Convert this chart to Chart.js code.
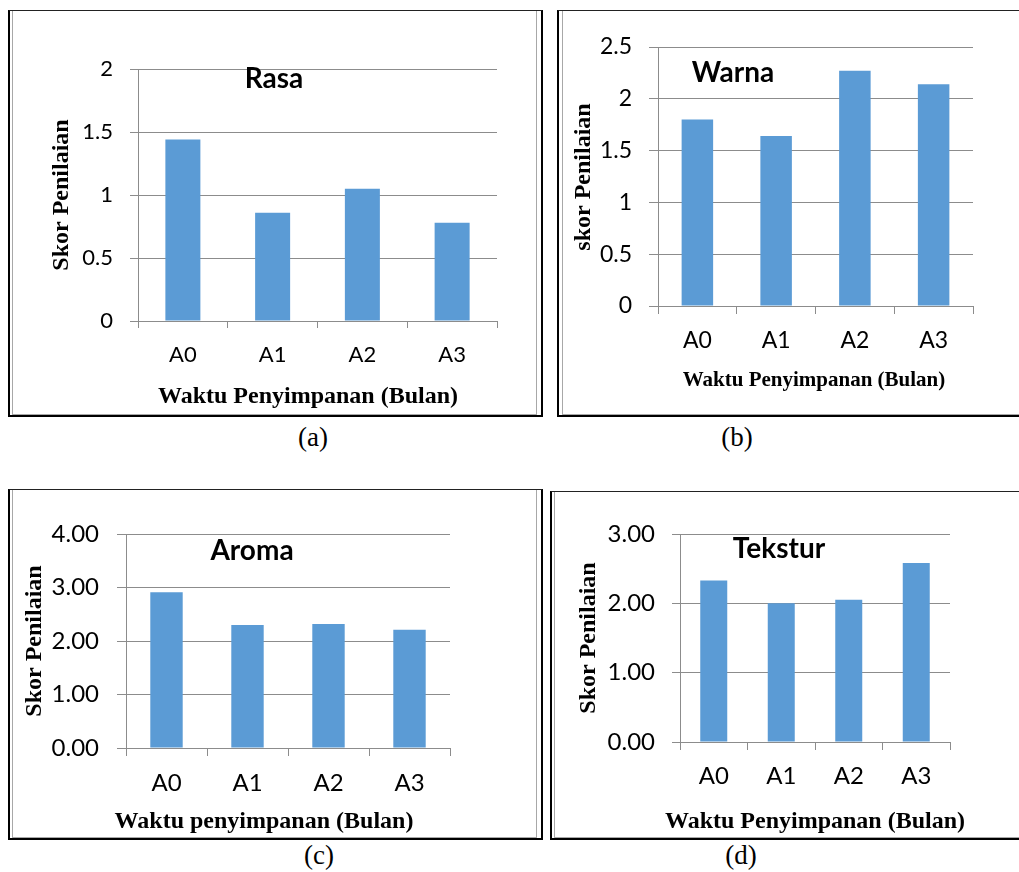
<!DOCTYPE html>
<html><head><meta charset="utf-8">
<script src="https://cdn.jsdelivr.net/npm/chart.js@4.4.1/dist/chart.umd.min.js"></script>
<style>
html,body{margin:0;padding:0;background:#fff;}
body{width:1019px;height:872px;position:relative;overflow:hidden;}
canvas{position:absolute;left:0;top:0;}
.frame{position:absolute;box-sizing:border-box;border:2px solid #000;border-top:1px solid #222;}
.inner{position:absolute;box-sizing:border-box;border:1px solid #a8a8a8;border-top:none;}
.cap{position:absolute;width:100px;text-align:center;font-family:"Liberation Serif",serif;font-size:27px;line-height:30px;color:#000;}
</style>
</head><body>
<div class="frame" style="left:8px;top:10px;width:535px;height:407px"></div>
<div class="inner" style="left:12px;top:11px;width:525px;height:404px"></div>
<div class="frame" style="left:557px;top:10px;width:470px;height:407px"></div>
<div class="inner" style="left:562px;top:11px;width:470px;height:404px"></div>
<div class="frame" style="left:8px;top:489px;width:535px;height:351px"></div>
<div class="inner" style="left:12px;top:490px;width:525px;height:348px"></div>
<div class="frame" style="left:550px;top:491px;width:480px;height:349px"></div>
<div class="inner" style="left:554px;top:492px;width:480px;height:346px"></div>
<div class="cap" style="left:263px;top:422px">(a)</div>
<div class="cap" style="left:687px;top:422px">(b)</div>
<div class="cap" style="left:269px;top:840px">(c)</div>
<div class="cap" style="left:691px;top:840px">(d)</div>
<canvas id="cA" width="1019" height="872"></canvas>
<canvas id="cB" width="1019" height="872"></canvas>
<canvas id="cC" width="1019" height="872"></canvas>
<canvas id="cD" width="1019" height="872"></canvas>
<script>
const categories = ['A0', 'A1', 'A2', 'A3'];
const rasa = [1.44, 0.86, 1.05, 0.78];
const warna = [1.80, 1.64, 2.27, 2.14];
const aroma = [2.91, 2.30, 2.32, 2.21];
const tekstur = [2.33, 2.00, 2.05, 2.58];
const ticksRasa = ['0', '0.5', '1', '1.5', '2'];
const ticksWarna = ['0', '0.5', '1', '1.5', '2', '2.5'];
const ticksAroma = ['0.00', '1.00', '2.00', '3.00', '4.00'];
const ticksTekstur = ['0.00', '1.00', '2.00', '3.00'];

const W = 1019, H = 872;
const GRID = '#8c8c8c';
const BAR = '#5b9bd5';

const textPlugin = {
  id: 'panelText',
  afterDraw(chart, args, opts) {
    const ctx = chart.ctx;
    (opts.items || []).forEach(it => {
      ctx.save();
      ctx.font = it.font;
      ctx.fillStyle = '#000';
      ctx.textAlign = 'center';
      ctx.textBaseline = 'alphabetic';
      ctx.translate(it.x, it.y);
      if (it.rot) ctx.rotate(it.rot);
      ctx.fillText(it.text, 0, 0);
      ctx.restore();
    });
  }
};

function makeChart(id, p) {
  const yW = 80, xH = 60;
  return new Chart(document.getElementById(id), {
    type: 'bar',
    data: {
      labels: categories,
      datasets: [{ data: p.values, backgroundColor: BAR, borderWidth: 0,
        categoryPercentage: 1, barPercentage: p.barPct }]
    },
    plugins: [textPlugin],
    options: {
      responsive: false, animation: false, devicePixelRatio: 1,
      layout: { padding: { left: p.area.l - yW, right: W - p.area.r, top: p.area.t, bottom: H - p.area.b - xH } },
      plugins: {
        legend: { display: false }, tooltip: { enabled: false },
        panelText: { items: p.texts }
      },
      scales: {
        x: {
          afterFit: s => { s.height = xH; },
          grid: { drawOnChartArea: false, drawTicks: true, tickLength: p.xTick, color: GRID, lineWidth: 1 },
          border: { color: GRID, width: 1 },
          ticks: { color: '#000', padding: p.xPad, font: { family: 'Lato', size: p.fs } }
        },
        y: {
          min: 0, max: p.max,
          afterFit: s => { s.width = yW; },
          grid: { color: GRID, lineWidth: 1, tickLength: p.yTick, drawTicks: true },
          border: { color: GRID, width: 1 },
          ticks: { stepSize: p.step, color: '#000', padding: p.yPad,
            font: { family: 'Lato', size: p.fs },
            callback: (v, i) => p.tickLabels[i] }
        }
      }
    }
  });
}

const TF = 'bold 28px Lato';
const SF = 'bold 24px "Liberation Serif"';
const R = -Math.PI / 2;

makeChart('cA', {
  values: rasa, tickLabels: ticksRasa, max: 2, step: 0.5, barPct: 0.39,
  area: { l: 138, r: 497, t: 69, b: 321 }, fs: 22, xTick: 7, yTick: 8, xPad: 14, yPad: 17,
  texts: [
    { text: 'Rasa', x: 274, y: 88, font: TF },
    { text: 'Skor Penilaian', x: 68, y: 195, rot: R, font: SF },
    { text: 'Waktu Penyimpanan (Bulan)', x: 308, y: 403, font: SF }
  ]
});
makeChart('cB', {
  values: warna, tickLabels: ticksWarna, max: 2.5, step: 0.5, barPct: 0.40,
  area: { l: 658, r: 973, t: 47, b: 306 }, fs: 23, xTick: 8, yTick: 9, xPad: 13, yPad: 17,
  texts: [
    { text: 'Warna', x: 733, y: 82, font: TF },
    { text: 'skor Penilaian', x: 590, y: 177, rot: R, font: SF },
    { text: 'Waktu Penyimpanan (Bulan)', x: 814, y: 386, font: 'bold 21px "Liberation Serif"' }
  ]
});
makeChart('cC', {
  values: aroma, tickLabels: ticksAroma, max: 4, step: 1, barPct: 0.40,
  area: { l: 126, r: 450, t: 534, b: 748 }, fs: 24, xTick: 8, yTick: 9, xPad: 13, yPad: 18,
  texts: [
    { text: 'Aroma', x: 252, y: 560, font: TF },
    { text: 'Skor Penilaian', x: 41, y: 641, rot: R, font: SF },
    { text: 'Waktu penyimpanan (Bulan)', x: 264, y: 828, font: SF }
  ]
});
makeChart('cD', {
  values: tekstur, tickLabels: ticksTekstur, max: 3, step: 1, barPct: 0.40,
  area: { l: 680, r: 950, t: 534, b: 742 }, fs: 24, xTick: 8, yTick: 8, xPad: 12, yPad: 17,
  texts: [
    { text: 'Tekstur', x: 779, y: 558, font: TF },
    { text: 'Skor Penilaian', x: 595, y: 638, rot: R, font: SF },
    { text: 'Waktu Penyimpanan (Bulan)', x: 815, y: 828, font: SF }
  ]
});
</script>
</body></html>
